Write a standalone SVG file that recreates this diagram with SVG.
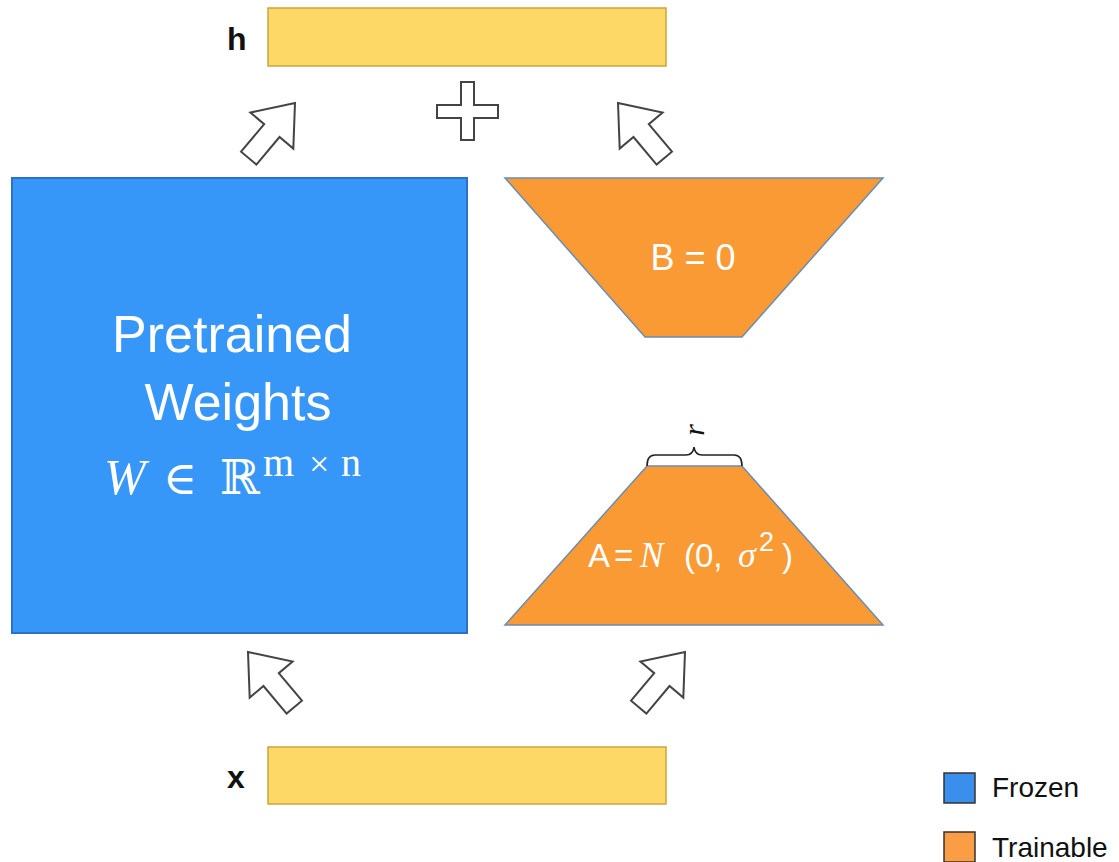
<svg xmlns="http://www.w3.org/2000/svg" xmlns:xlink="http://www.w3.org/1999/xlink" width="1119" height="862" viewBox="0 0 1119 862">
<style>
.sans{font-family:"Liberation Sans",Arial,sans-serif}
.serif{font-family:"Liberation Serif","DejaVu Serif",serif}
.white{fill:#ffffff}
.vec{fill:#FDD867;stroke:#C9A63C;stroke-width:1.5}
.train{fill:#F99A35;stroke:#6A8DB5;stroke-width:1.5}
.blockarrow{fill:#ffffff;stroke:#444444;stroke-width:2;stroke-linejoin:miter}
.lbl{font-family:"Liberation Sans",Arial,sans-serif;font-weight:bold;fill:#111111}
</style>
<defs>
<polygon id="arrow" points="0,0 28,36 10,36 10,72 -10,72 -10,36 -28,36"/>
</defs>
<rect width="1119" height="862" fill="#ffffff"/>

<g id="h-vector">
<rect class="vec" x="268" y="8" width="398" height="58"/>
<text class="lbl" x="227" y="50" font-size="32">h</text>
</g>

<g id="x-vector">
<rect class="vec" x="268" y="747" width="398" height="57"/>
<text class="lbl" x="227" y="788" font-size="32">x</text>
</g>

<g id="pretrained">
<rect x="12" y="178" width="455" height="455" fill="#3797F8" stroke="#2A72C8" stroke-width="2"/>
<text class="sans white" x="232" y="352" font-size="52" text-anchor="middle">Pretrained</text>
<text class="sans white" x="238" y="420" font-size="52" text-anchor="middle">Weights</text>
<text class="white" y="494"><tspan class="serif" x="104" font-size="50" font-style="italic">W</tspan><tspan x="163" font-size="46" font-family="DejaVu Serif,serif">∈</tspan><tspan x="220" font-size="48" font-family="DejaVu Serif,serif">ℝ</tspan><tspan class="serif" x="263" y="476" font-size="40">m</tspan><tspan class="serif" x="309" y="476" font-size="36">×</tspan><tspan class="serif" x="341" y="476" font-size="40">n</tspan></text>
</g>

<g id="B">
<polygon class="train" points="505,178 883,178 742,337 645,337"/>
<text class="sans white" x="693" y="270" font-size="36" text-anchor="middle">B = 0</text>
</g>

<g id="A">
<polygon class="train" points="647,466 742,466 883,625 505,625"/>
<text class="white" y="567" font-size="33"><tspan class="sans" x="588">A</tspan><tspan class="sans" x="614">=</tspan><tspan class="serif" x="640" font-style="italic" font-size="35">N</tspan><tspan class="sans" x="684">(0,</tspan><tspan class="serif" x="738" font-style="italic" font-size="36">σ</tspan><tspan class="sans" x="759" y="551" font-size="27">2</tspan><tspan class="sans" x="782" y="567">)</tspan></text>
</g>

<g id="rank-brace">
<path d="M647,466 Q647,455 655,455 L686,455 Q693,455 694,447 Q695,455 702,455 L734,455 Q742,455 742,466" fill="none" stroke="#222222" stroke-width="1.6"/>
<text class="serif" transform="translate(704,430) rotate(-90)" font-size="30" font-style="italic" text-anchor="middle" fill="#111111">r</text>
</g>

<g id="plus">
<polygon class="blockarrow" points="461,82 474,82 474,105 498,105 498,118 474,118 474,140 461,140 461,118 437,118 437,105 461,105"/>
</g>

<g id="connectors">
<use xlink:href="#arrow" href="#arrow" class="blockarrow" transform="translate(295,103) rotate(40)"/>
<use xlink:href="#arrow" href="#arrow" class="blockarrow" transform="translate(618,103) rotate(-40)"/>
<use xlink:href="#arrow" href="#arrow" class="blockarrow" transform="translate(248,652) rotate(-40)"/>
<use xlink:href="#arrow" href="#arrow" class="blockarrow" transform="translate(685,652) rotate(40)"/>
</g>

<g id="legend">
<rect x="944" y="773" width="31" height="30" fill="#3B8FEC" stroke="#333333" stroke-width="1.5"/>
<text class="sans" x="992" y="797" font-size="28" fill="#111111">Frozen</text>
<rect x="944" y="832" width="31" height="30" fill="#FA9D45" stroke="#333333" stroke-width="1.5"/>
<text class="sans" x="992" y="857" font-size="28" fill="#111111">Trainable</text>
</g>
</svg>
